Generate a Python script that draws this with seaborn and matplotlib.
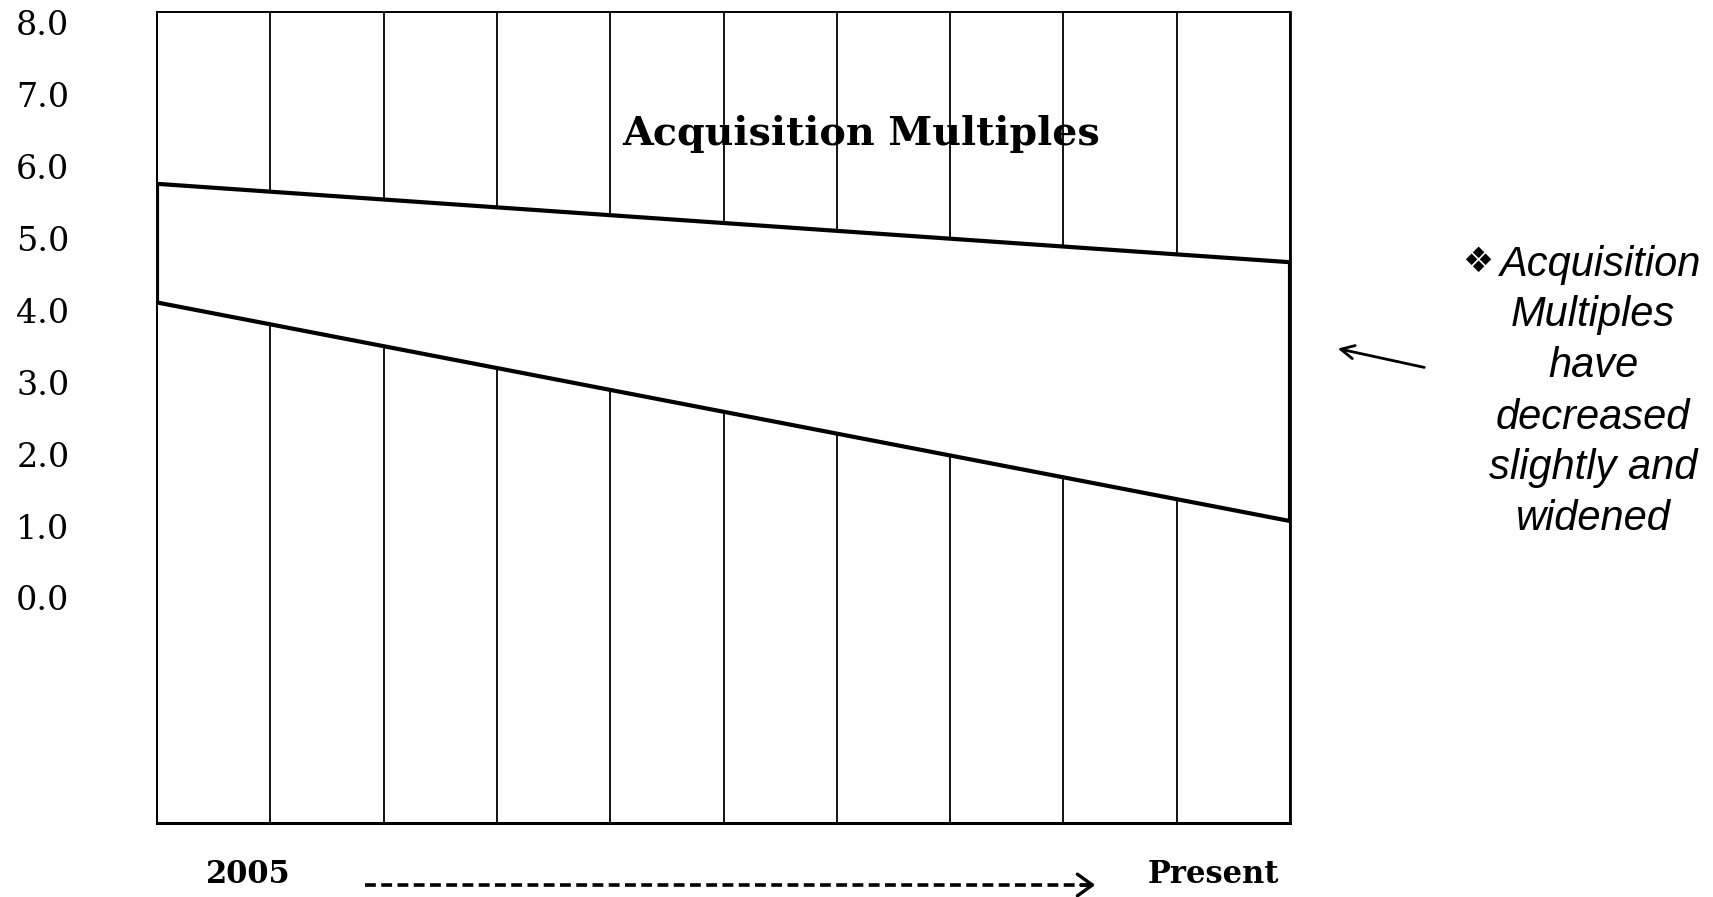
import matplotlib
matplotlib.use("Agg")
import matplotlib.pyplot as plt
import seaborn as sns
import pandas as pd
from matplotlib.lines import Line2D

# Band of acquisition multiples, start (2005) and end (present)
periods = [0, 10]
upper_multiple = [5.76, 4.67]
lower_multiple = [4.11, 1.07]
ytick_values = [0, 1, 2, 3, 4, 5, 6, 7, 8]
ytick_labels = ["0.0", "1.0", "2.0", "3.0", "4.0", "5.0", "6.0", "7.0", "8.0"]
start_label = "2005"
end_label = "Present"
chart_title = "Acquisition Multiples"
note_lines = ["Acquisition", "Multiples", "have", "decreased", "slightly and", "widened"]

sns.set_theme(style="white")
plt.rcParams["font.family"] = ["DejaVu Serif"]
plt.rcParams["text.color"] = "black"
plt.rcParams["ytick.color"] = "black"
plt.rcParams["xtick.color"] = "black"

W, H = 1713, 897
fig = plt.figure(figsize=(W / 100, H / 100), dpi=100)
ax = fig.add_axes([157 / W, 1 - 823 / H, (1290 - 157) / W, (823 - 12) / H])

df = pd.DataFrame({"period": periods, "upper": upper_multiple, "lower": lower_multiple})

# white band hides the column rules behind it
ax.fill_between(df["period"], df["lower"], df["upper"], color="white", zorder=2)
sns.lineplot(data=df, x="period", y="upper", color="black", lw=3, ax=ax, zorder=3)
sns.lineplot(data=df, x="period", y="lower", color="black", lw=3, ax=ax, zorder=3)
ax.vlines([periods[0], periods[-1]], [lower_multiple[0], lower_multiple[-1]],
          [upper_multiple[0], upper_multiple[-1]], color="black", lw=3, zorder=3)

ax.set_xlim(0, 10)
ax.set_ylim(-3.13, 8.15)
ax.set_xticks(range(11))
ax.set_xticklabels([])
ax.set_axisbelow(True)
ax.grid(axis="x", color="black", lw=1.3)
ax.grid(axis="y", visible=False)
ax.set_yticks(ytick_values)
ax.set_yticklabels(ytick_labels, fontsize=24, family="DejaVu Serif", color="black")
ax.tick_params(axis="y", length=0, pad=63)
ax.tick_params(axis="x", length=0)
ax.set_xlabel("")
ax.set_ylabel("")
for side, sp in ax.spines.items():
    sp.set_visible(True)
    sp.set_color("black")
    sp.set_linewidth(1.4)
ax.spines["bottom"].set_linewidth(2.2)
ax.spines["right"].set_linewidth(2.0)

ax.text((861 - 157) / (1290 - 157), 1 - (134 - 12) / (823 - 12), chart_title,
        transform=ax.transAxes, ha="center", va="center", color="black",
        fontsize=28.5, fontweight="heavy", family="DejaVu Serif", zorder=4)

# time axis labels and dashed arrow
fig.text(248 / W, 1 - 874 / H, start_label, ha="center", va="center", color="black",
         fontsize=22, fontweight="bold", family="DejaVu Serif")
fig.text(1213 / W, 1 - 874 / H, end_label, ha="center", va="center", color="black",
         fontsize=22, fontweight="bold", family="DejaVu Serif")
fig.add_artist(Line2D([365 / W, 1090 / W], [1 - 885 / H, 1 - 885 / H],
                      transform=fig.transFigure, color="black", lw=2.6,
                      linestyle=(0, (3, 1.5))))
ax.annotate("", xy=(1098, H - 885), xytext=(1078, H - 885),
            xycoords="figure pixels", textcoords="figure pixels",
            arrowprops=dict(arrowstyle="->,head_length=0.9,head_width=0.65",
                            color="black", lw=2.4))

# side note
note_y = [265, 315, 366, 418, 468, 519]
for i, (line, yy) in enumerate(zip(note_lines, note_y)):
    xx = 1600 if i == 0 else 1593
    fig.text(xx / W, 1 - yy / H, line, ha="center", va="center", color="black",
             fontsize=30, style="italic", family=["Liberation Sans", "DejaVu Sans"])
fig.text(1478 / W, 1 - 262 / H, "\u2756", ha="center", va="center", color="black",
         fontsize=25, family=["DejaVu Sans"])
ax.annotate("", xy=(1335, H - 348), xytext=(1427, H - 368),
            xycoords="figure pixels", textcoords="figure pixels",
            arrowprops=dict(arrowstyle="->,head_length=0.8,head_width=0.4",
                            color="black", lw=2))

fig.savefig("out.png", dpi=100, facecolor="white")
